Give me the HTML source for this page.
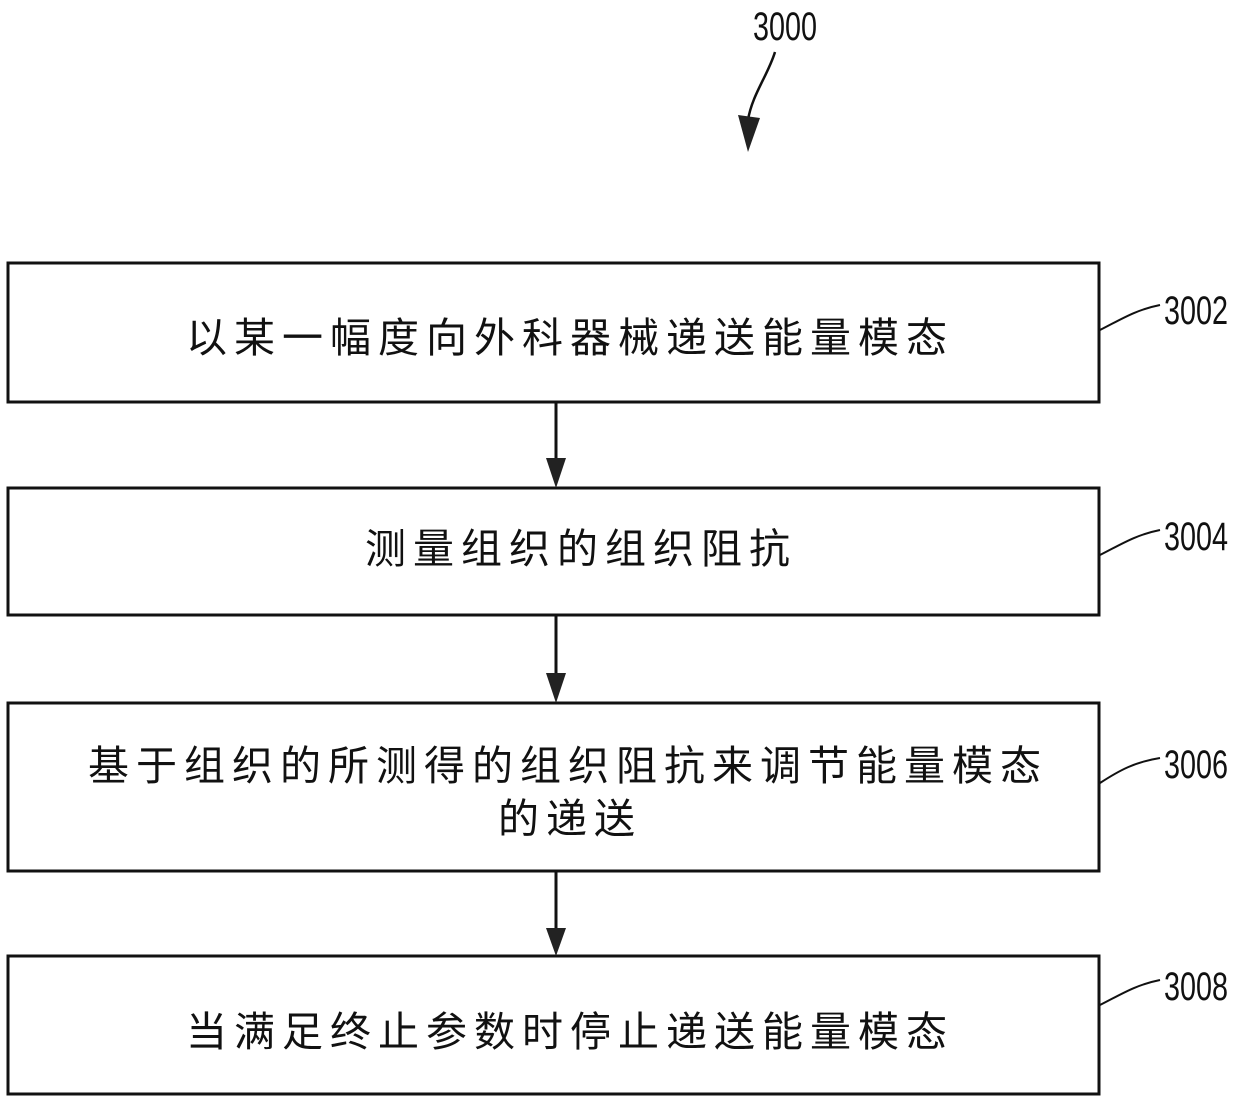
<!DOCTYPE html>
<html><head><meta charset="utf-8"><style>
html,body{margin:0;padding:0;background:#fff;}
svg{display:block;}
.t{font-family:"Liberation Serif","Noto Sans CJK SC",serif;font-size:41px;fill:#111;letter-spacing:7px;}
.n{font-family:"Liberation Sans",sans-serif;font-size:40px;fill:#111;}
</style></head><body>
<svg width="1240" height="1103" viewBox="0 0 1240 1103" xmlns="http://www.w3.org/2000/svg">
<g fill="none" stroke="#111" stroke-width="3">
<rect x="8" y="263" width="1091" height="139"/>
<rect x="8" y="488" width="1091" height="127"/>
<rect x="8" y="703" width="1091" height="168"/>
<rect x="8" y="956" width="1091" height="138"/>
<line x1="556" y1="402" x2="556" y2="460"/>
<line x1="556" y1="615" x2="556" y2="675"/>
<line x1="556" y1="871" x2="556" y2="930"/>
<path d="M775 52 C768 75 752 95 748 120" stroke-width="2.5"/>
<path d="M1100 330 C1120 320 1135 310 1160 305" stroke-width="2"/>
<path d="M1100 555 C1120 545 1135 535 1160 530" stroke-width="2"/>
<path d="M1100 783 C1120 770 1135 762 1160 758" stroke-width="2"/>
<path d="M1100 1005 C1120 995 1135 985 1160 980" stroke-width="2"/>
</g>
<g fill="#222">
<polygon points="546,458 566,458 556,488"/>
<polygon points="546,673 566,673 556,703"/>
<polygon points="546,928 566,928 556,956"/>
<polygon points="738,115 760,118 748,152"/>
</g>
<text class="n" x="753" y="40" transform="translate(753 0) scale(0.72 1) translate(-753 0)">3000</text>
<text class="n" x="1164" y="324" transform="translate(1164 0) scale(0.72 1) translate(-1164 0)">3002</text>
<text class="n" x="1164" y="550" transform="translate(1164 0) scale(0.72 1) translate(-1164 0)">3004</text>
<text class="n" x="1164" y="778" transform="translate(1164 0) scale(0.72 1) translate(-1164 0)">3006</text>
<text class="n" x="1164" y="1000" transform="translate(1164 0) scale(0.72 1) translate(-1164 0)">3008</text>
<text class="t" x="186" y="352">以某一幅度向外科器械递送能量模态</text>
<text class="t" x="365" y="563">测量组织的组织阻抗</text>
<text class="t" x="88" y="780">基于组织的所测得的组织阻抗来调节能量模态</text>
<text class="t" x="498" y="833">的递送</text>
<text class="t" x="186" y="1046">当满足终止参数时停止递送能量模态</text>
</svg>
</body></html>
